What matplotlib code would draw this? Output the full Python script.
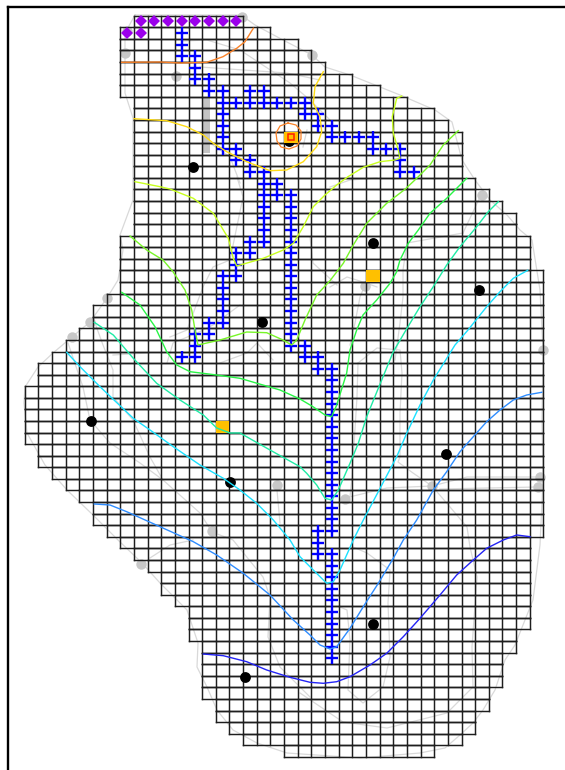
"""
Groundwater model grid map: active cells, drains, wells and head contours.
All map positions are in image pixels, y going down.
"""
import matplotlib
matplotlib.use('Agg')
import matplotlib.pyplot as plt

# grid
x0, dx = 24.7, 13.65
y0, dy = 15.7, 11.58
# first column and one-past-last column of the active cells, one pair per row
row_first = [8, 7, 7, 7, 7, 7, 7, 8, 8, 8, 8, 8, 8, 8, 8, 8, 8, 8, 8, 7, 7, 7, 7, 7, 6, 5, 5, 4, 3, 2,
             1, 1, 0, 0, 0, 0, 0, 1, 1, 2, 3, 4, 5, 5, 6, 7, 8, 9, 10, 10, 11, 12, 12, 12,
             13, 13, 13, 13, 13, 14, 14, 15, 16, 19]
row_last = [16, 18, 20, 21, 22, 24, 26, 28, 30, 31, 32, 32, 32, 32, 33, 34, 35, 36, 36, 37, 37, 37, 38, 38, 38, 38, 38, 38, 38, 38,
            38, 38, 38, 38, 38, 38, 38, 38, 38, 38, 38, 38, 38, 38, 38, 37, 37, 37, 37, 37, 37, 37, 37, 36,
            36, 35, 35, 35, 34, 34, 33, 33, 32, 30]

# (column, row) of special cells
gold_cells = [(25, 22), (14, 35), (19, 10)]
red_cell = (19, 10)
diamonds = [(c, 0) for c in range(8, 16)] + [(7, 1), (8, 1)]
drains = [(11, 1), (11, 2), (11, 3), (12, 3), (12, 4), (12, 5), (13, 5), (13, 6), (14, 6), (14, 7),
          (15, 7), (16, 6), (16, 7), (17, 6), (17, 7), (18, 7), (19, 7), (20, 7), (20, 8), (21, 8),
          (21, 9), (22, 9), (22, 10), (23, 10), (24, 10), (25, 10), (25, 11), (26, 11), (27, 11),
          (27, 12), (27, 13), (28, 13),
          (14, 8), (14, 9), (14, 10), (14, 11), (15, 11), (15, 12), (16, 12), (16, 13), (17, 13),
          (17, 14), (18, 14), (17, 15), (18, 15), (19, 15), (17, 16), (17, 17), (17, 18), (17, 19),
          (16, 19), (16, 20), (15, 20), (15, 21), (15, 22), (14, 22), (14, 23), (14, 24), (14, 25),
          (14, 26), (13, 26), (13, 27), (12, 27), (12, 28), (12, 29), (11, 29),
          (19, 16), (19, 17), (19, 18), (19, 19), (19, 20), (19, 21), (19, 22), (19, 23), (19, 24),
          (19, 25), (19, 26), (19, 27), (19, 28), (20, 28), (20, 29), (21, 29), (21, 30), (22, 30),
          (22, 31), (22, 32), (22, 33), (22, 34), (22, 35), (22, 36), (22, 37), (22, 38), (22, 39),
          (22, 40), (22, 41), (22, 42), (22, 43), (22, 44), (21, 44), (21, 45), (21, 46), (22, 46),
          (22, 47), (22, 48), (22, 49), (22, 50), (22, 51), (22, 52), (22, 53), (22, 54), (22, 55)]

wells = [(193, 167), (289, 141), (373, 243), (479, 290), (262, 322),
         (91, 421), (230, 482), (446, 454), (373, 624), (245, 677)]
gray_spots = [(125, 53), (176, 76), (242, 17), (312, 55), (482, 195), (365, 286), (107, 298),
              (90, 322), (72, 337), (141, 564), (212, 531), (277, 485), (543, 350), (345, 499),
              (540, 477), (538, 487), (432, 486), (127, 31)]
source_ring = [(288, 123), (296, 125), (301, 131), (301, 139), (297, 146), (289, 149), (281, 147),
               (277, 141), (276, 133), (280, 126), (288, 123)]

# head contours, high to low
orange_line = [(121.7, 62.3), (160, 62), (180, 63), (206.7, 62.3), (223, 56.7), (236.7, 48.3), (245, 41.7), (253.3, 28.3)]
yellow_line = [(134, 118.7), (166.7, 120.7), (186.7, 126.7), (203.3, 135), (213.3, 143.3), (226.7, 151.7),
               (246.7, 161.7), (270, 170.7), (286.7, 170), (303.3, 161.7), (316.7, 146.7), (321.7, 131.7),
               (320, 116.7), (313.3, 103.3), (315, 86.7), (323.3, 71.7)]
lime_line = [(401.7, 96), (396.7, 98.3), (392.3, 116.7), (393.3, 133.3), (398.3, 150), (400, 158.3), (395, 160),
             (380, 161.7), (363.3, 167.3), (348, 176.7), (336.7, 185), (325, 195), (313.3, 206.7), (303.3, 226.7),
             (293.3, 243.3), (283.3, 250), (263.3, 258.3), (236.7, 266), (233.3, 258.3), (228.3, 238.3),
             (213.3, 213.3), (193.3, 198.3), (170, 189), (160, 186.7), (135, 181.7)]
yellowgreen_line = [(458.3, 130.7), (443.3, 145), (430, 165), (416.7, 178.3), (405, 189.3), (386.7, 203.3),
                    (366.7, 223.3), (353.3, 245), (343.3, 263.3), (330, 280.7), (316.7, 295), (305, 320),
                    (296.7, 340), (291.7, 345), (283, 340), (266.7, 332.7), (246.7, 332), (220, 340), (198, 345),
                    (195, 330), (191.7, 310), (185, 290), (173, 271.7), (163, 260), (146.7, 250), (130, 236)]
green_line = [(466.7, 178.3), (446.7, 198.3), (430, 213.3), (418.3, 230), (408.3, 243.3), (400, 260), (396.7, 271.7),
              (390, 283.3), (376.7, 300), (363, 315), (356.7, 330), (350, 350), (346.7, 373), (336.7, 405),
              (331.7, 416.7), (325, 415), (313, 406.7), (300, 399), (280, 390), (240, 378.3), (216.7, 375),
              (190, 371.7), (176.7, 365), (166.7, 351.7), (155, 326.7), (140, 305), (121.7, 292.3)]
seagreen_line = [(498.3, 201.7), (488.3, 211.7), (476.7, 226.7), (460, 246.7), (446.7, 265), (433.3, 286.7),
                 (420, 306.7), (406, 330), (393.3, 351.7), (378.3, 388.3), (366.7, 416.7), (358.3, 443.3),
                 (350, 463.3), (338.3, 490), (331.7, 500), (325, 498.3), (316.7, 485), (306.7, 473.3), (300, 466.7),
                 (270, 450), (240, 433), (230, 433), (216.7, 428), (203.3, 415), (180, 400), (156.7, 383.3),
                 (133.3, 358.3), (113.3, 335), (94.3, 322.3)]
cyan_line = [(527.7, 270.3), (513.3, 278.3), (500, 291.7), (486.7, 306.7), (468, 330), (455, 345), (433.3, 380),
             (420, 405), (406.7, 433.3), (396.7, 456.7), (378.3, 491.7), (363.3, 520), (353.3, 540), (340, 570),
             (333.3, 581.7), (326.7, 583.3), (313.3, 570), (300, 556.7), (290, 540), (273.3, 520), (256.7, 503.3),
             (240, 490), (223.3, 478.3), (200, 465), (173.3, 446.7), (150, 430), (133.3, 418.3), (100, 386.7),
             (80, 366.7), (66.7, 352.3)]
blue_line = [(541.7, 392.3), (526.7, 395), (513.3, 400), (500, 410), (486.7, 421.7), (473.3, 436.7), (460, 451.7),
             (446.7, 471.7), (433.3, 490), (416.7, 520), (403.3, 540), (393.3, 558.3), (378.3, 583.3), (363.3, 606.7),
             (350, 628.3), (336.7, 646.7), (330, 649), (320, 645), (310, 635), (293.3, 620), (270, 595),
             (243.3, 573.3), (216.7, 555), (193.3, 541.7), (160, 526.7), (126.7, 511.7), (110, 505), (94.3, 504)]
darkblue_line = [(530, 536.7), (516.7, 535), (503.3, 540), (486.7, 548.3), (473.3, 560), (456.7, 575), (440, 595),
                 (420, 618.3), (403.3, 636.7), (386.7, 653.3), (370, 665), (350, 676.7), (336.7, 681.7),
                 (323.3, 683.3), (310, 682.3), (290, 677.3), (266.7, 670), (246.7, 661.7), (223.3, 655.7), (203.3, 654)]
contours = [(orange_line, '#FA8228'), (yellow_line, '#FFDC14'), (lime_line, '#C8FF1E'),
            (yellowgreen_line, '#78F528'), (green_line, '#28F546'), (seagreen_line, '#1EEBA5'),
            (cyan_line, '#19E1FF'), (blue_line, '#2D8CFF'), (darkblue_line, '#2323F5')]

# light gray base map
outline = [(135, 15), (241, 15), (255, 25), (283, 40), (312, 55), (325, 67), (350, 75), (375, 85), (400, 95),
           (435, 110), (452, 122), (462, 160), (475, 180), (490, 200), (507, 215), (520, 230), (532, 240),
           (540, 290), (543, 350), (542, 420), (543, 480), (540, 545), (533, 600), (515, 645), (505, 660),
           (495, 690), (483, 710), (473, 723), (460, 735), (445, 748), (420, 753), (360, 758), (287, 753),
           (257, 743), (233, 730), (217, 710), (207, 687), (197, 667), (198, 643), (187, 610), (160, 583),
           (142, 563), (118, 540), (93, 515), (67, 490), (45, 465), (27, 433), (24, 403), (25, 387), (38, 367),
           (53, 353), (72, 337), (90, 322), (107, 298), (118, 280), (123, 250), (120, 235), (133, 200),
           (133, 118), (125, 93), (125, 33), (135, 15)]
base_lines = [
    [(358, 363), (377, 348), (400, 350), (402, 373), (400, 413), (400, 457), (398, 462), (413, 473), (432, 486),
     (450, 507), (467, 527), (470, 547), (477, 577), (472, 647), (473, 687), (447, 713), (387, 728), (343, 722), (300, 693)],
    [(358, 363), (357, 397), (352, 477), (350, 497)],
    [(340, 607), (347, 610), (350, 640), (348, 690), (363, 703), (383, 687), (390, 657), (388, 603), (390, 570),
     (367, 553), (353, 547)],
    [(345, 498), (387, 488), (432, 486), (467, 477), (540, 477)],
    [(440, 489), (538, 487)],
    [(68, 343), (83, 387), (90, 420), (110, 443), (140, 463), (163, 480), (200, 513), (212, 532), (233, 540),
     (263, 577), (270, 597), (268, 637), (280, 667), (310, 697)],
    [(95, 323), (103, 345), (113, 370), (113, 397), (133, 420), (150, 457), (163, 480)],
    [(113, 355), (147, 353)],
    [(167, 363), (173, 343), (197, 333), (213, 325), (240, 305)],
    [(170, 337), (187, 330), (203, 287), (213, 267), (230, 260), (243, 197), (237, 177)],
    [(310, 237), (313, 263), (337, 285)],
    [(220, 363), (247, 353), (257, 343), (273, 360)],
    [(150, 558), (170, 545), (193, 540)],
    [(277, 490), (280, 523)],
    [(463, 233), (480, 197)],
    [(463, 233), (407, 243), (403, 270), (403, 297), (400, 323), (395, 360)],
    [(330, 187), (350, 180), (377, 178)],
    [(330, 287), (347, 277), (363, 282), (377, 287)],
    [(365, 285), (360, 297), (355, 323), (350, 345)],
    [(182, 41), (207, 40), (240, 50), (290, 83), (310, 100), (333, 123)],
    [(200, 67), (287, 73), (320, 80)],
    [(210, 143), (230, 157), (240, 183)],
    [(307, 130), (303, 147)],
]
gray_strip = (203, 97, 7, 56)  # left, top, width, height of the thick gray bar
grid_colour = '#1e1e1e'
grid_lw = 1.05


def cell_center(c, r):
    return x0 + dx * (c + 0.5), y0 + dy * (r + 0.5)


def xs(pts):
    return [p[0] for p in pts]


def ys(pts):
    return [p[1] for p in pts]


fig = plt.figure(figsize=(5.65, 7.70), dpi=100)
ax = fig.add_axes([0, 0, 1, 1])
ax.set_xlim(0, 565)
ax.set_ylim(770, 0)
ax.axis('off')

# frame: only top and left edges show
ax.plot([8, 8], [6.7, 770], color='black', lw=1.7, solid_capstyle='projecting')
ax.plot([8, 565], [6.7, 6.7], color='black', lw=1.7, solid_capstyle='projecting')

# base map
for line in [outline] + base_lines:
    ax.plot(xs(line), ys(line), color='#d9d9d9', lw=0.9, zorder=1)
ax.add_patch(plt.Rectangle(gray_strip[:2], gray_strip[2], gray_strip[3], color='#c4c4c4', lw=0, zorder=1))
ax.plot(xs(gray_spots), ys(gray_spots), 'o', color='#c8c8c8', ms=7.5, mew=0, zorder=1)

ax.plot(xs(wells), ys(wells), 'o', color='black', ms=7.8, mew=0, zorder=3)

# special cells
for c, r in gold_cells:
    ax.add_patch(plt.Rectangle((x0 + dx * c, y0 + dy * r), dx, dy, color='#FFC000', lw=0, zorder=4))

# grid
for r, (first, last) in enumerate(zip(row_first, row_last)):
    top = y0 + dy * r
    ax.plot([x0 + dx * first, x0 + dx * last], [top, top], color=grid_colour, lw=grid_lw, zorder=2, solid_capstyle='projecting')
    ax.plot([x0 + dx * first, x0 + dx * last], [top + dy, top + dy], color=grid_colour, lw=grid_lw, zorder=2, solid_capstyle='projecting')
    for c in range(first, last + 1):
        ax.plot([x0 + dx * c, x0 + dx * c], [top, top + dy], color=grid_colour, lw=grid_lw, zorder=2, solid_capstyle='projecting')

# source cell marker
cx, cy = cell_center(*red_cell)
ax.plot([cx], [cy], 's', mfc='none', mec='#FF1E00', ms=4, mew=1.1, zorder=6)
ax.plot(xs(source_ring), ys(source_ring), color='#FA8228', lw=0.9, zorder=6)

# drains and constant heads
drain_xy = [cell_center(c, r) for c, r in drains]
ax.plot(xs(drain_xy), ys(drain_xy), '+', color='#0000FF', ms=8.8, mew=1.7, zorder=5)
diamond_xy = [cell_center(c, r) for c, r in diamonds]
ax.plot(xs(diamond_xy), ys(diamond_xy), 'D', color='#9B00EB', ms=6.3, mew=0, zorder=5)

for line, colour in contours:
    ax.plot(xs(line), ys(line), color=colour, lw=1.0, zorder=6)

fig.savefig('out.png', dpi=100, facecolor='white')
plt.close(fig)
